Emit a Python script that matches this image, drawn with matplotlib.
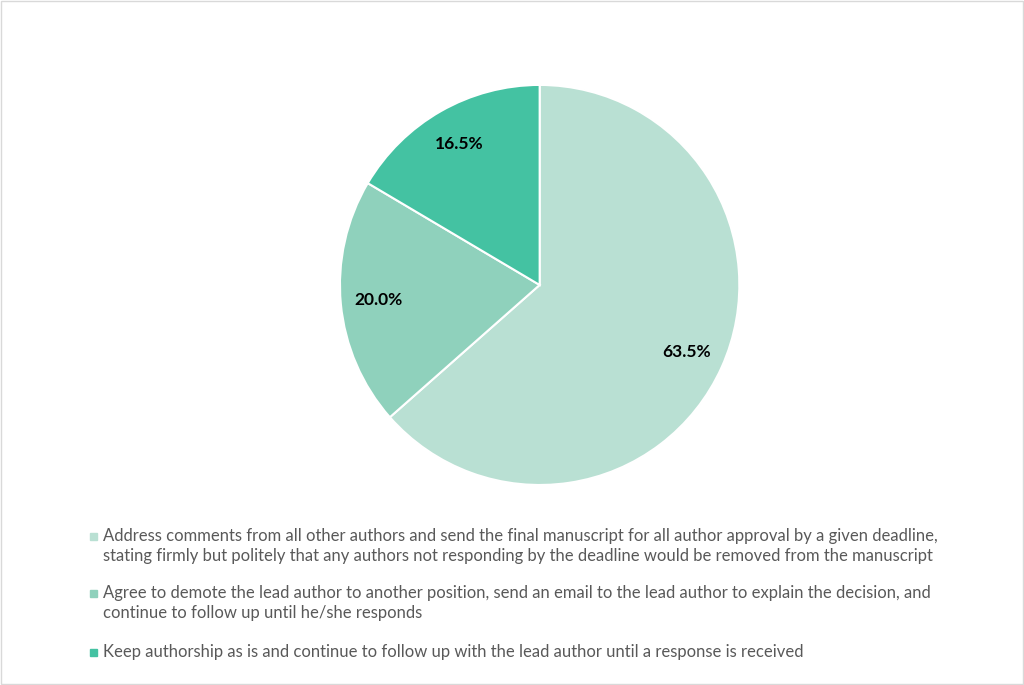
import matplotlib.pyplot as plt
from matplotlib.patches import Rectangle

plt.rcParams['font.family'] = ['Lato', 'DejaVu Sans']

shares = [63.5, 20.0, 16.5]
colors = ['#B9E0D3', '#8FD1BC', '#44C2A2']
legend_lines = [
    ["Address comments from all other authors and send the final manuscript for all author approval by a given deadline,",
     "stating firmly but politely that any authors not responding by the deadline would be removed from the manuscript"],
    ["Agree to demote the lead author to another position, send an email to the lead author to explain the decision, and",
     "continue to follow up until he/she responds"],
    ["Keep authorship as is and continue to follow up with the lead author until a response is received"],
]

fig = plt.figure(figsize=(10.24, 6.85), dpi=100)
fig.patches.append(Rectangle((0.001, 0.001), 0.998, 0.998, transform=fig.transFigure,
                             fill=False, edgecolor='#D9D9D9', linewidth=1))

ax = fig.add_axes([0.332, 0.292, 0.39, 0.584])
ax.pie(shares, colors=colors, startangle=90, counterclock=False,
       autopct='%.1f%%', pctdistance=0.81,
       wedgeprops=dict(edgecolor='white', linewidth=1.5),
       textprops=dict(fontsize=12.5, fontweight='bold', color='black'))
ax.set_aspect('auto')
ax.set_xlim(-1, 1)
ax.set_ylim(-1, 1)

# legend as plain text with square markers
y_starts = [536, 593, 652]
for lines, y0, c in zip(legend_lines, y_starts, colors):
    fig.patches.append(Rectangle((90 / 1024, 1 - (y0 + 4) / 685), 7 / 1024, 7 / 685,
                                 transform=fig.transFigure, color=c))
    for i, line in enumerate(lines):
        fig.text(103 / 1024, 1 - (y0 + i * 20) / 685, line, fontsize=12,
                 color='#595959', va='center', ha='left')

fig.savefig('out.png', dpi=100)
